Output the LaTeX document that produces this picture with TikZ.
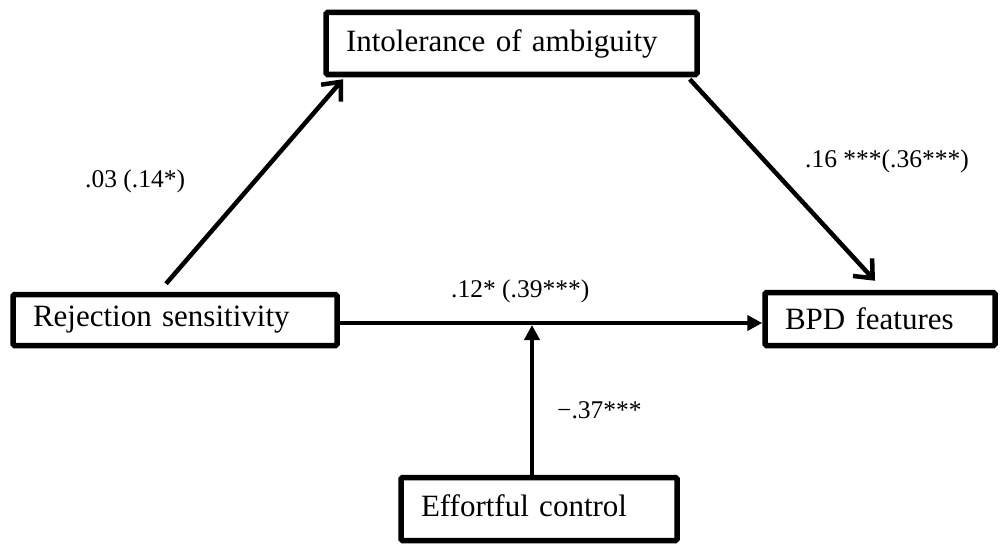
\documentclass[tikz,border=0pt]{standalone}
\usepackage{fontspec}
\setmainfont{Liberation Serif}
\usepackage{tikz}
\usetikzlibrary{calc}
\usetikzlibrary{arrows.meta}

\tikzset{
    varbox/.style = {draw, line width = 5.5pt, rounded corners = 1.5pt, align = left, inner xsep = 20pt, inner ysep = 0pt, font = \fontsize{31}{36}\selectfont},
    coef/.style = {anchor = base west, inner sep = 0pt, font = \fontsize{25.5}{30}\selectfont},
    barb/.style = {line width = 4.5pt, -{Straight Barb[length = 15pt, width = 26pt]}},
    tri/.style = {line width = 4.5pt, -{Triangle[length = 15pt, width = 15pt]}}
}

\begin{document}
\begin{tikzpicture}[x = 1pt, y = -1pt]
    \useasboundingbox (0, 0) rectangle (1001, 551);
    \node [varbox, text width = 331pt, minimum height = 62pt] (ia) at (511.5, 43.5) {Intolerance of ambiguity};
    \node [varbox, text width = 284pt, minimum height = 51pt] (rs) at (175, 320) {Rejection sensitivity};
    \node [varbox, text width = 190pt, minimum height = 53pt] (bpd) at (880, 319) {BPD features};
    \node [varbox, text width = 236pt, minimum height = 63pt] (ec) at (539, 509) {\raisebox{6pt}{Effortful control}};
    \coordinate (mid) at (532, 323);
    \draw [barb] ([xshift = -9pt, yshift = 8pt]rs.north) -- ([xshift = -168.5pt, yshift = -2pt]ia.south);
    \draw [barb] ([xshift = -10pt, yshift = -2pt]ia.south east) -- ([xshift = -5pt, yshift = 9pt]bpd.north);
    \draw [tri] (rs.east |- mid) -- (bpd.west |- mid);
    \draw [tri] (mid |- ec.north) -- ([yshift = -2pt]mid);
    \node [coef] (a) at (85, 187) {.03 (.14*)};
    \node [coef] (b) at (805, 167) {.16 ***(.36***)};
    \node [coef] (c) at (451, 297) {.12* (.39***)};
    \node [coef] (d) at (557, 418) {−.37***};
\end{tikzpicture}
\end{document}
